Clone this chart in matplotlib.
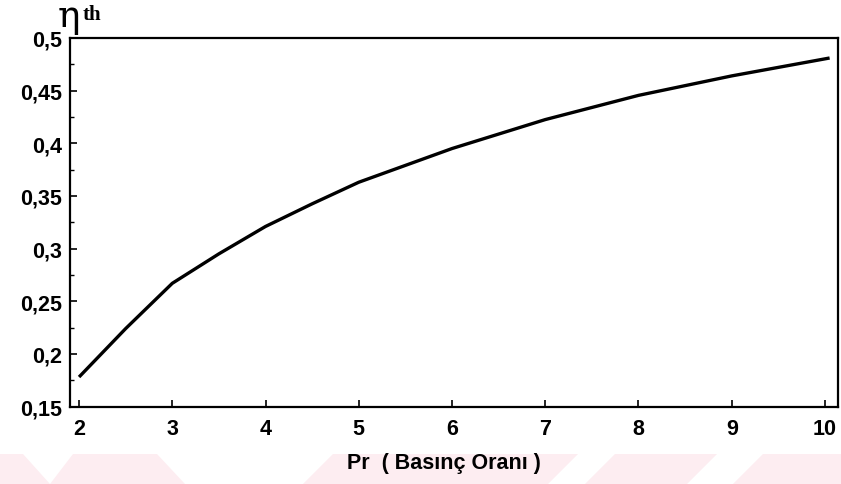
import numpy as np
import matplotlib.pyplot as plt
from matplotlib.patches import Polygon
from matplotlib.ticker import MultipleLocator, FuncFormatter

# values
pr = [2, 2.5, 3, 3.5, 4, 4.5, 5, 6, 7, 8, 9, 10.05]
eta = [0.178, 0.224, 0.267, 0.295, 0.321, 0.3425, 0.363, 0.395, 0.4225, 0.4455, 0.464, 0.481]

xticks = [2, 3, 4, 5, 6, 7, 8, 9, 10]
yticks = [0.15, 0.2, 0.25, 0.3, 0.35, 0.4, 0.45, 0.5]

W, H = 841, 485
fig = plt.figure(figsize=(W/100, H/100), dpi=100)

# faint pink watermark shapes at the bottom (pixel coords)
shapes = [
    [(0, 455), (23, 455), (50, 485), (0, 485)],
    [(73, 455), (157, 455), (185, 485), (50, 485)],
    [(333, 455), (578, 455), (548, 485), (303, 485)],
    [(615, 455), (717, 455), (687, 485), (585, 485)],
    [(763, 455), (841, 455), (841, 485), (733, 485)],
]
for s in shapes:
    pts = [(x/W, 1 - y/H) for x, y in s]
    fig.patches.append(Polygon(pts, closed=True, transform=fig.transFigure,
                               facecolor="#fdedf1", edgecolor="none", zorder=0))

ax = fig.add_axes([70/W, 1 - 407.5/H, (838 - 70)/W, (407.5 - 39)/H])
ax.plot(pr, eta, color="black", lw=2.4, solid_capstyle="butt")

ax.set_xlim(1.903, 10.14)
ax.set_ylim(0.15, 0.5)
ax.set_xticks(xticks)
ax.set_yticks(yticks)
ax.yaxis.set_minor_locator(MultipleLocator(0.025))
ax.yaxis.set_major_formatter(FuncFormatter(lambda v, p: f"{v:g}".replace(".", ",")))

for sp in ax.spines.values():
    sp.set_linewidth(1.6)

ax.tick_params(which="major", direction="in", length=5, width=1.2)
ax.tick_params(which="minor", direction="in", length=3, width=1.0)
ax.tick_params(axis="y", pad=6)
ax.tick_params(axis="x", pad=8)
for lab in ax.get_xticklabels() + ax.get_yticklabels():
    lab.set_family("Liberation Sans")
    lab.set_fontsize(15.5)
    lab.set_weight("bold")

fig.text(444/W, 1 - 463/H, "Pr  ( Basınç Oranı )", ha="center", va="center",
         family="Liberation Sans", size=15.5, weight="bold")

fig.text(58/W, 1 - 17/H, "η", ha="left", va="center",
         family="DejaVu Serif", size=27)
fig.text(83/W, 1 - 15/H, "th", ha="left", va="center",
         family="Liberation Serif", size=15, weight="bold")

fig.savefig("out.png", dpi=100)
